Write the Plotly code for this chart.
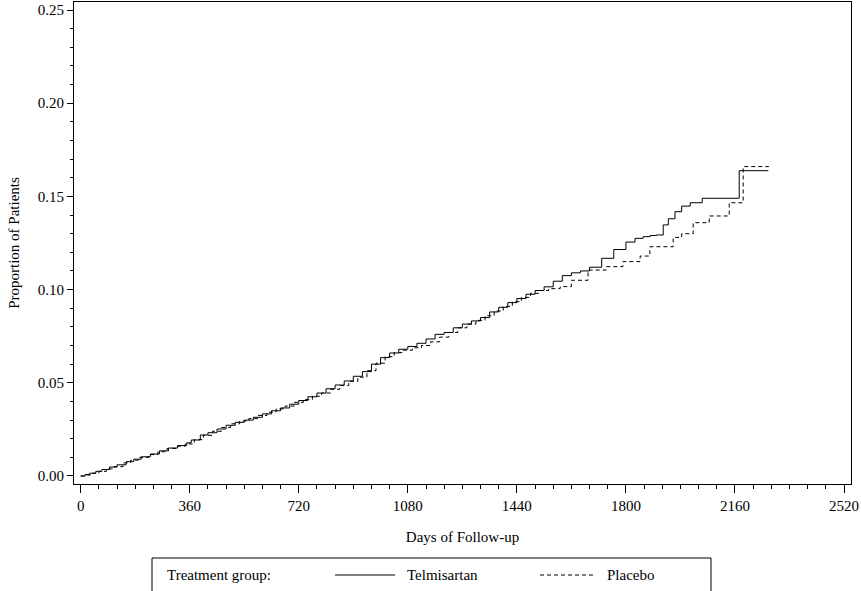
import plotly.graph_objects as go

# ---- data ----
tel_days = [0, 15, 30, 50, 70, 95, 120, 150, 175, 200, 230, 260, 290, 320, 350, 365, 395, 420, 450, 480,
            510, 540, 570, 600, 630, 660, 690, 720, 750, 780, 810, 840, 870, 900, 930, 960, 990, 1020, 1050,
            1080, 1110, 1140, 1170, 1200, 1230, 1260, 1290, 1320, 1350, 1380, 1410, 1440, 1470, 1500, 1530,
            1560, 1590, 1620, 1650, 1680, 1720, 1760, 1800, 1830, 1857, 1880, 1901, 1923, 1940, 1962, 1984,
            2012, 2052, 2174, 2270]
tel_prop = [0.0, 0.0008, 0.0015, 0.0025, 0.0035, 0.0048, 0.0060, 0.0077, 0.0090, 0.0103, 0.0118, 0.0135,
            0.0150, 0.0163, 0.0178, 0.0193, 0.0220, 0.0232, 0.0252, 0.0272, 0.0288, 0.0300, 0.0315, 0.0333,
            0.0350, 0.0365, 0.0385, 0.0405, 0.0425, 0.0445, 0.0468, 0.0488, 0.0510, 0.0535, 0.0560, 0.0600,
            0.0635, 0.0660, 0.0680, 0.0695, 0.0712, 0.0735, 0.0760, 0.0770, 0.0795, 0.0815, 0.0832, 0.0850,
            0.0880, 0.0905, 0.0930, 0.0952, 0.0975, 0.0995, 0.1015, 0.1045, 0.1075, 0.1090, 0.1100, 0.1120,
            0.1168, 0.1215, 0.1255, 0.1275, 0.1284, 0.1290, 0.1293, 0.1347, 0.1380, 0.1418, 0.1448, 0.1466,
            0.1490, 0.1638, 0.1638]

pla_days = [0, 20, 40, 60, 85, 110, 140, 165, 195, 225, 255, 285, 315, 345, 375, 405, 435, 465, 495, 525,
            555, 585, 615, 645, 675, 705, 735, 765, 795, 825, 855, 885, 915, 945, 975, 1005, 1035, 1065, 1095,
            1125, 1155, 1185, 1215, 1245, 1275, 1305, 1335, 1365, 1395, 1425, 1455, 1485, 1515, 1545, 1583,
            1620, 1675, 1736, 1790, 1847, 1879, 1956, 1984, 2022, 2075, 2141, 2187, 2272]
pla_prop = [0.0, 0.0005, 0.0015, 0.0025, 0.0038, 0.0050, 0.0070, 0.0085, 0.0100, 0.0115, 0.0130, 0.0148,
            0.0160, 0.0172, 0.0195, 0.0218, 0.0240, 0.0260, 0.0280, 0.0295, 0.0308, 0.0325, 0.0342, 0.0360,
            0.0375, 0.0395, 0.0410, 0.0428, 0.0445, 0.0465, 0.0485, 0.0508, 0.0530, 0.0565, 0.0605, 0.0640,
            0.0662, 0.0675, 0.0688, 0.0700, 0.0720, 0.0745, 0.0770, 0.0795, 0.0815, 0.0835, 0.0860, 0.0885,
            0.0910, 0.0935, 0.0958, 0.0980, 0.0995, 0.1005, 0.1016, 0.1050, 0.1105, 0.1123, 0.1150, 0.1180,
            0.1230, 0.1280, 0.1300, 0.1359, 0.1395, 0.1466, 0.1660, 0.1660]

x_ticks = [0, 360, 720, 1080, 1440, 1800, 2160, 2520]
y_ticks = [0.00, 0.05, 0.10, 0.15, 0.20, 0.25]
y_tick_labels = ["0.00", "0.05", "0.10", "0.15", "0.20", "0.25"]

series_names = ["Telmisartan", "Placebo"]
legend_title = "Treatment group:"
x_title = "Days of Follow-up"
y_title = "Proportion of Patients"

FONT = "Liberation Serif, Times New Roman, serif"
FS = 15
W, H = 861, 591
L, R, T, B = 74, 851, 2, 484  # plot area in pixels


def px(x):
    return (x - L) / (R - L)


def py(y):
    return (B - y) / (B - T)


fig = go.Figure()
fig.add_trace(go.Scatter(x=tel_days, y=tel_prop, mode="lines", line_shape="hv",
                         line=dict(color="black", width=1), name=series_names[0], showlegend=False))
fig.add_trace(go.Scatter(x=pla_days, y=pla_prop, mode="lines", line_shape="hv",
                         line=dict(color="black", width=1, dash="4px,3px"), name=series_names[1],
                         showlegend=False))

# legend box (manually drawn, partly cut off at the bottom like the reference)
shapes = [
    dict(type="rect", xref="paper", yref="paper", x0=px(152), x1=px(711), y0=py(600), y1=py(558),
         line=dict(color="black", width=1), fillcolor="rgba(0,0,0,0)"),
    dict(type="line", xref="paper", yref="paper", x0=px(335), x1=px(395), y0=py(575), y1=py(575),
         line=dict(color="black", width=1)),
    dict(type="line", xref="paper", yref="paper", x0=px(540), x1=px(596), y0=py(575), y1=py(575),
         line=dict(color="black", width=1, dash="4px,3px")),
]
annotations = [
    dict(text=legend_title, xref="paper", yref="paper", x=px(165), y=py(575), xanchor="left",
         yanchor="middle", showarrow=False, font=dict(family=FONT, size=FS, color="black")),
    dict(text=series_names[0], xref="paper", yref="paper", x=px(405), y=py(575), xanchor="left",
         yanchor="middle", showarrow=False, font=dict(family=FONT, size=FS, color="black")),
    dict(text=series_names[1], xref="paper", yref="paper", x=px(605), y=py(575), xanchor="left",
         yanchor="middle", showarrow=False, font=dict(family=FONT, size=FS, color="black")),
]

fig.update_layout(
    width=W, height=H,
    margin=dict(l=L, r=W - R, t=T, b=H - B),
    paper_bgcolor="white", plot_bgcolor="white",
    font=dict(family=FONT, size=FS, color="black"),
    showlegend=False,
    shapes=shapes,
    annotations=annotations,
    xaxis=dict(
        range=[-22, 2543], tickvals=x_ticks, ticktext=[str(v) for v in x_ticks],
        automargin=False,
        showgrid=False, zeroline=False, showline=True, linecolor="black", linewidth=1, mirror=True,
        ticks="outside", ticklen=8, tickcolor="black", tickwidth=1,
        minor=dict(dtick=60, tick0=0, ticks="outside", ticklen=4, tickcolor="black", showgrid=False),
        title=dict(text=x_title, font=dict(family=FONT, size=FS), standoff=18),
        tickfont=dict(family=FONT, size=FS, color="black"),
    ),
    yaxis=dict(
        range=[-0.0043, 0.2543], tickvals=y_ticks, ticktext=y_tick_labels,
        automargin=False,
        showgrid=False, zeroline=False, showline=True, linecolor="black", linewidth=1, mirror=True,
        ticks="outside", ticklen=6, tickcolor="black", tickwidth=1,
        minor=dict(dtick=0.01, tick0=0, ticks="outside", ticklen=3, tickcolor="black", showgrid=False),
        title=dict(text=y_title, font=dict(family=FONT, size=FS), standoff=14),
        tickfont=dict(family=FONT, size=FS, color="black"),
    ),
)

fig.write_html("out.html", config={"displayModeBar": False},
               post_script="document.body.style.margin='0px';")
